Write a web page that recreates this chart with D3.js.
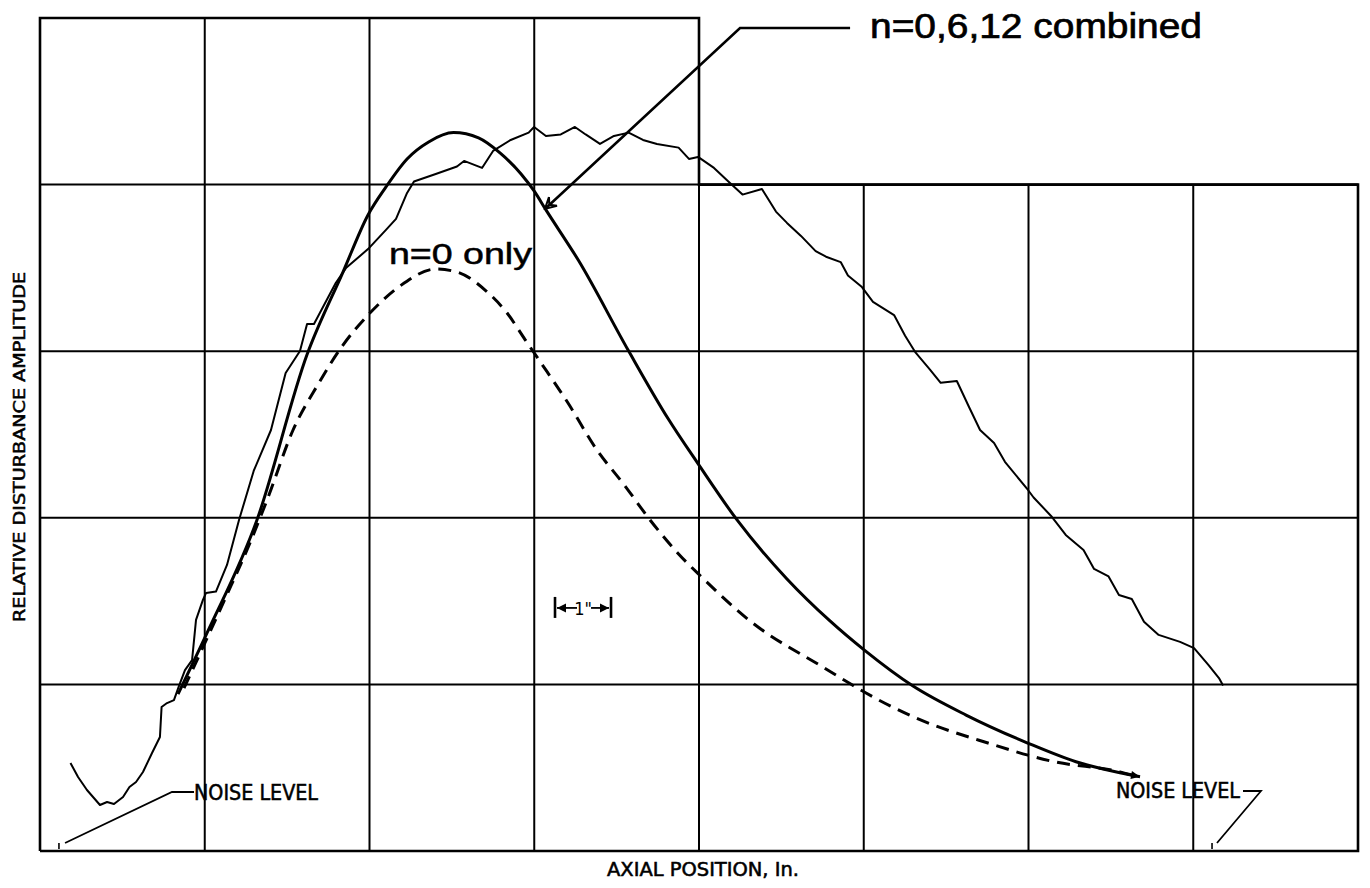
<!DOCTYPE html>
<html>
<head>
<meta charset="utf-8">
<script src="https://cdn.jsdelivr.net/npm/d3@7"></script>
<style>
  html, body { margin: 0; padding: 0; background: #fff; }
  svg { display: block; }
</style>
</head>
<body>
<svg id="chart" width="1370" height="888"></svg>
<script>
// ---------- DATA (grid units: x 0..8, y 0..5) ----------
const xGrid = [1, 2, 3, 4, 5, 6, 7];
const yGrid = [1, 2, 3, 4];

// theory: n = 0,6,12 combined (solid)
const combined = [
  [0.838,0.942],[1.014,1.309],[1.317,1.987],[1.621,2.980],[1.839,3.475],[1.991,3.818],
  [2.100,3.986],[2.228,4.154],[2.359,4.256],[2.510,4.312],[2.662,4.280],[2.792,4.190],
  [2.920,4.064],[2.999,3.962],[3.071,3.848],[3.269,3.544],[3.573,3.001],[3.812,2.596],
  [3.994,2.325],[4.231,1.987],[4.534,1.633],[4.795,1.381],[5.002,1.207],[5.299,0.990],
  [5.621,0.816],[5.995,0.648],[6.288,0.536],[6.555,0.470],[6.677,0.446]
];

// theory: n = 0 only (dashed)
const nZeroOnly = [
  [0.874,0.978],[1.123,1.513],[1.275,1.851],[1.384,2.122],[1.536,2.527],[1.687,2.800],
  [1.839,3.037],[1.991,3.217],[2.185,3.391],[2.402,3.493],[2.531,3.475],[2.705,3.364],
  [2.835,3.229],[2.944,3.070],[3.029,2.947],[3.205,2.689],[3.375,2.415],[3.551,2.191],
  [3.703,1.987],[3.876,1.783],[4.012,1.648],[4.316,1.376],[4.752,1.104],
  [4.926,0.999],[5.014,0.948],[5.299,0.806],[5.754,0.648],[6.155,0.536],[6.555,0.475],
  [6.665,0.446]
];

// measured disturbance amplitude (thin, noisy)
const measured = [
  [0.185,0.528],[0.231,0.444],[0.285,0.366],[0.364,0.276],[0.407,0.294],[0.449,0.282],
  [0.504,0.324],[0.543,0.384],[0.583,0.414],[0.625,0.474],[0.680,0.588],[0.728,0.684],
  [0.738,0.864],[0.771,0.888],[0.813,0.906],[0.841,0.984],[0.880,1.086],[0.923,1.146],
  [0.947,1.387],[0.989,1.507],[1.008,1.549],[1.068,1.557],[1.135,1.717],[1.208,1.987],
  [1.297,2.281],[1.402,2.527],[1.491,2.869],[1.578,3.001],[1.621,3.163],[1.663,3.163],
  [1.795,3.409],[1.857,3.499],[1.991,3.613],[2.100,3.728],[2.161,3.794],[2.228,3.950],
  [2.270,4.019],[2.402,4.064],[2.531,4.109],[2.574,4.142],[2.683,4.100],[2.750,4.202],
  [2.857,4.268],[2.966,4.312],[2.999,4.346],[3.071,4.292],[3.161,4.301],[3.247,4.346],
  [3.312,4.301],[3.399,4.244],[3.484,4.292],[3.573,4.312],[3.660,4.268],[3.745,4.244],
  [3.876,4.222],[3.939,4.154],[3.994,4.166],[4.091,4.100],[4.188,4.010],[4.264,3.940],
  [4.382,3.974],[4.467,3.838],[4.534,3.770],[4.619,3.692],[4.708,3.601],[4.771,3.567],
  [4.860,3.535],[4.904,3.454],[4.989,3.385],[5.056,3.296],[5.184,3.217],[5.251,3.093],
  [5.315,2.991],[5.402,2.890],[5.467,2.810],[5.565,2.821],[5.639,2.665],[5.706,2.527],
  [5.791,2.449],[5.857,2.336],[5.997,2.167],[6.031,2.122],[6.137,2.011],[6.226,1.897],
  [6.334,1.807],[6.398,1.693],[6.486,1.648],[6.549,1.537],[6.627,1.513],[6.701,1.376],
  [6.790,1.297],[6.920,1.255],[7.005,1.218],[7.093,1.116],[7.156,1.038],[7.181,0.993]
];

// annotation texts and anchor points (grid units)
const labelCombined = { text: "n=0,6,12 combined", at: [5.038, 4.880] };
const leaderCombined = [[4.917,4.940],[4.249,4.940],[3.065,3.854]];
const labelNZero = { text: "n=0 only", at: [2.118, 3.523] };
const noiseLabels = [
  { text: "NOISE LEVEL", at: [0.935, 0.306], leader: [[0.935,0.354],[0.801,0.354],[0.152,0.048]], tick: 0.115 },
  { text: "NOISE LEVEL", at: [6.531, 0.318], leader: [[7.302,0.360],[7.411,0.360],[7.144,0.048]], tick: 7.114 }
];
const scaleBar = { from: 3.126, to: 3.466, y: 1.459, text: "1\"" };
const xTitle = "AXIAL POSITION, In.";
const yTitle = "RELATIVE DISTURBANCE AMPLITUDE";

// ---------- DRAW ----------
const svg = d3.select("#chart");
const x = d3.scaleLinear().domain([0, 8]).range([40, 1358]);
const y = d3.scaleLinear().domain([0, 5]).range([851, 18]);
const smallFont = "'DejaVu Sans Condensed', 'DejaVu Sans', sans-serif";
const bigFont = "'Liberation Sans', Arial, sans-serif";

const defs = svg.append("defs");
defs.append("marker").attr("id", "vhead")
  .attr("viewBox", "-12 -8 14 16").attr("refX", 0).attr("refY", 0)
  .attr("markerWidth", 14).attr("markerHeight", 16).attr("markerUnits", "userSpaceOnUse")
  .attr("orient", "auto")
  .append("path").attr("d", "M-11,-6 L0,0 L-11,6 M-11,-6 L-6,0 L-11,6")
  .attr("fill", "none").attr("stroke", "#000").attr("stroke-width", 2);
defs.append("marker").attr("id", "endhead")
  .attr("viewBox", "-10 -5 12 10").attr("refX", 0).attr("refY", 0)
  .attr("markerWidth", 12).attr("markerHeight", 10).attr("markerUnits", "userSpaceOnUse")
  .attr("orient", "auto")
  .append("path").attr("d", "M-9,-4 L0,0 L-9,4 Z").attr("fill", "#000");

// grid
const g = svg.append("g").attr("stroke", "#000").attr("fill", "none");
g.selectAll("line.v").data(xGrid).join("line")
  .attr("x1", d => x(d)).attr("x2", d => x(d))
  .attr("y1", y(0)).attr("y2", d => d <= 4 ? y(5) : y(4))
  .attr("stroke-width", 2);
g.selectAll("line.h").data(yGrid).join("line")
  .attr("x1", x(0)).attr("x2", x(8))
  .attr("y1", d => y(d)).attr("y2", d => y(d))
  .attr("stroke-width", 2);

// notched frame
const frame = [[0,0],[0,5],[4,5],[4,4],[8,4],[8,0],[0,0]];
g.append("path")
  .attr("d", d3.line().x(d => x(d[0])).y(d => y(d[1]))(frame))
  .attr("stroke-width", 2.6).attr("stroke-linejoin", "miter");

// curves
const smooth = d3.line().x(d => x(d[0])).y(d => y(d[1])).curve(d3.curveMonotoneX);
const straight = d3.line().x(d => x(d[0])).y(d => y(d[1]));

svg.append("path").attr("d", straight(measured))
  .attr("fill", "none").attr("stroke", "#000").attr("stroke-width", 2)
  .attr("stroke-linejoin", "round");

svg.append("path").attr("d", smooth(nZeroOnly))
  .attr("fill", "none").attr("stroke", "#000").attr("stroke-width", 3)
  .attr("stroke-dasharray", "13 8");

svg.append("path").attr("d", smooth(combined))
  .attr("fill", "none").attr("stroke", "#000").attr("stroke-width", 3)
  .attr("marker-end", "url(#endhead)");

// combined label and leader arrow
svg.append("path").attr("d", straight(leaderCombined))
  .attr("fill", "none").attr("stroke", "#000").attr("stroke-width", 2.6)
  .attr("marker-end", "url(#vhead)");
svg.append("text")
  .attr("x", x(labelCombined.at[0])).attr("y", y(labelCombined.at[1]))
  .attr("font-family", bigFont).attr("font-size", 35)
  .attr("stroke", "#000").attr("stroke-width", 0.7)
  .attr("textLength", 332).attr("lengthAdjust", "spacingAndGlyphs")
  .text(labelCombined.text);

svg.append("text")
  .attr("x", x(labelNZero.at[0])).attr("y", y(labelNZero.at[1]))
  .attr("font-family", bigFont).attr("font-size", 30)
  .attr("stroke", "#000").attr("stroke-width", 0.5)
  .attr("textLength", 143).attr("lengthAdjust", "spacingAndGlyphs")
  .text(labelNZero.text);

// noise level labels
noiseLabels.forEach(n => {
  svg.append("text")
    .attr("x", x(n.at[0])).attr("y", y(n.at[1]))
    .attr("font-family", smallFont).attr("font-size", 21)
    .attr("stroke", "#000").attr("stroke-width", 0.5)
    .attr("textLength", 124).attr("lengthAdjust", "spacingAndGlyphs")
    .text(n.text);
  svg.append("path").attr("d", straight(n.leader))
    .attr("fill", "none").attr("stroke", "#000").attr("stroke-width", 1.8);
  svg.append("line")
    .attr("x1", x(n.tick)).attr("x2", x(n.tick))
    .attr("y1", y(0) - 8).attr("y2", y(0) - 2)
    .attr("stroke", "#000").attr("stroke-width", 1.6);
});

// 1-inch scale bar
const sb = svg.append("g").attr("stroke", "#000").attr("fill", "none");
const sy = y(scaleBar.y);
sb.append("line").attr("x1", x(scaleBar.from)).attr("x2", x(scaleBar.from))
  .attr("y1", sy - 11).attr("y2", sy + 10).attr("stroke-width", 2.6);
sb.append("line").attr("x1", x(scaleBar.to)).attr("x2", x(scaleBar.to))
  .attr("y1", sy - 11).attr("y2", sy + 10).attr("stroke-width", 2.6);
sb.append("line").attr("x1", x(scaleBar.from) + 2).attr("x2", x(scaleBar.from) + 22)
  .attr("y1", sy).attr("y2", sy).attr("stroke-width", 1.8);
sb.append("line").attr("x1", x(scaleBar.to) - 20).attr("x2", x(scaleBar.to) - 2)
  .attr("y1", sy).attr("y2", sy).attr("stroke-width", 1.8);
sb.append("path").attr("fill", "#000").attr("stroke", "none")
  .attr("d", `M${x(scaleBar.from)+2},${sy} l9,-4.5 l0,9 Z`);
sb.append("path").attr("fill", "#000").attr("stroke", "none")
  .attr("d", `M${x(scaleBar.to)-2},${sy} l-9,-4.5 l0,9 Z`);
svg.append("text")
  .attr("x", (x(scaleBar.from) + x(scaleBar.to)) / 2).attr("y", sy + 7)
  .attr("text-anchor", "middle").attr("fill", "#000")
  .attr("font-family", smallFont).attr("font-size", 18)
  .text(scaleBar.text);

// axis titles
svg.append("text")
  .attr("x", 607).attr("y", 876).attr("fill", "#000")
  .attr("font-family", smallFont).attr("font-size", 19)
  .attr("stroke", "#000").attr("stroke-width", 0.5)
  .attr("textLength", 192).attr("lengthAdjust", "spacingAndGlyphs")
  .text(xTitle);
svg.append("text")
  .attr("transform", "translate(25,447) rotate(-90)")
  .attr("text-anchor", "middle").attr("fill", "#000")
  .attr("font-family", smallFont).attr("font-size", 16)
  .attr("stroke", "#000").attr("stroke-width", 0.5)
  .attr("textLength", 350).attr("lengthAdjust", "spacingAndGlyphs")
  .text(yTitle);
</script>
</body>
</html>
